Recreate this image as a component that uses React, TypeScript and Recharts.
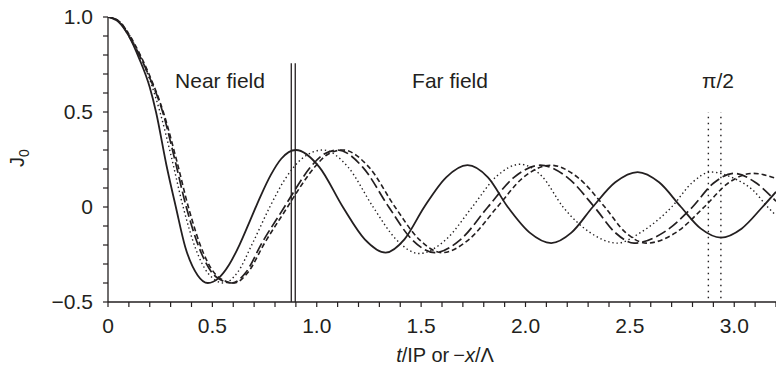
import { LineChart, Line, XAxis, YAxis, ReferenceLine, Customized } from 'recharts'

// curve samples (extrema, zero crossings and points in between)
const solidX = [0, 0.05, 0.1, 0.15, 0.2, 0.23, 0.28, 0.325, 0.37, 0.43, 0.478, 0.53, 0.58, 0.63, 0.68, 0.73, 0.78, 0.83, 0.9, 1.0125, 1.125, 1.23, 1.33, 1.42, 1.515, 1.62, 1.722, 1.82, 1.915, 2.02, 2.123, 2.22, 2.322, 2.43, 2.537, 2.64, 2.745, 2.84, 2.936, 3.035, 3.135, 3.2]
const solidY = [1, 0.975, 0.9, 0.78, 0.63, 0.5, 0.22, 0, -0.21, -0.36, -0.4, -0.374, -0.304, -0.199, -0.073, 0.055, 0.169, 0.254, 0.3, 0.21, 0, -0.17, -0.24, -0.17, 0, 0.156, 0.22, 0.156, 0, -0.135, -0.19, -0.135, 0, 0.13, 0.184, 0.13, 0, -0.114, -0.161, -0.114, 0, 0.08]

const dottedX = [0, 0.05, 0.1, 0.15, 0.2, 0.249, 0.3, 0.36, 0.42, 0.48, 0.555, 0.62, 0.695, 0.775, 0.85, 0.93, 1.03, 1.15, 1.27, 1.38, 1.49, 1.62, 1.745, 1.86, 1.975, 2.08, 2.18, 2.31, 2.44, 2.55, 2.7, 2.8, 2.888, 3.0, 3.09, 3.16, 3.2]
const dottedY = [1, 0.98, 0.91, 0.8, 0.67, 0.5, 0.28, 0, -0.22, -0.35, -0.4, -0.345, -0.185, 0, 0.15, 0.255, 0.3, 0.21, 0, -0.17, -0.245, -0.17, 0, 0.16, 0.225, 0.16, 0, -0.135, -0.19, -0.135, 0, 0.13, 0.184, 0.15, 0.088, 0, -0.045]

const longX = [0, 0.05, 0.1, 0.15, 0.2, 0.262, 0.32, 0.375, 0.45, 0.52, 0.595, 0.66, 0.737, 0.845, 0.89, 0.97, 1.03, 1.1, 1.22, 1.345, 1.455, 1.565, 1.69, 1.82, 1.945, 2.07, 2.2, 2.33, 2.43, 2.52, 2.66, 2.8, 2.9, 3.0, 3.1, 3.2]
const longY = [1, 0.98, 0.9, 0.8, 0.68, 0.5, 0.25, 0, -0.25, -0.37, -0.4, -0.345, -0.19, 0, 0.08, 0.21, 0.275, 0.3, 0.21, 0, -0.17, -0.24, -0.17, 0, 0.156, 0.22, 0.156, 0, -0.135, -0.19, -0.135, 0, 0.125, 0.177, 0.13, 0.03]

const shortX = [0, 0.05, 0.1, 0.15, 0.2, 0.265, 0.33, 0.385, 0.46, 0.53, 0.605, 0.67, 0.75, 0.86, 0.9, 0.99, 1.05, 1.125, 1.25, 1.375, 1.49, 1.6, 1.73, 1.865, 1.99, 2.12, 2.25, 2.38, 2.48, 2.58, 2.72, 2.856, 2.97, 3.09, 3.2]
const shortY = [1, 0.98, 0.91, 0.81, 0.69, 0.5, 0.24, 0, -0.25, -0.37, -0.4, -0.345, -0.19, 0, 0.07, 0.21, 0.275, 0.3, 0.21, 0, -0.17, -0.24, -0.17, 0, 0.156, 0.22, 0.156, 0, -0.135, -0.19, -0.135, 0, 0.125, 0.177, 0.15]

const xTicks = [0, 0.1, 0.2, 0.3, 0.4, 0.5, 0.6, 0.7, 0.8, 0.9, 1.0, 1.1, 1.2, 1.3, 1.4, 1.5, 1.6, 1.7, 1.8, 1.9, 2.0, 2.1, 2.2, 2.3, 2.4, 2.5, 2.6, 2.7, 2.8, 2.9, 3.0, 3.1, 3.2]
const yTicks = [-0.5, -0.4, -0.3, -0.2, -0.1, 0, 0.1, 0.2, 0.3, 0.4, 0.5, 0.6, 0.7, 0.8, 0.9, 1.0]

// boundary markers
const nearFarLines = [0.878, 0.897]
const halfPiLines = [2.876, 2.936]

const toPoints = (xs: number[], ys: number[]) => xs.map((x, i) => ({ x, y: ys[i] }))

const INK = '#231f20'
const FONT = '"Liberation Sans", Arial, sans-serif'

const fmtTick = (v: number) => {
  const r = Math.round(v * 10)
  if (r % 5 !== 0) return ''
  if (r === 0) return '0'
  return (r < 0 ? '\u2212' : '') + Math.abs(v).toFixed(1)
}

const Annotations = () => (
  <g fontFamily={FONT} fill={INK}>
    <text x={220} y={88} fontSize={21} textAnchor="middle">Near field</text>
    <text x={450} y={88} fontSize={21} textAnchor="middle">Far field</text>
    <text x={718} y={88} fontSize={21} textAnchor="middle">π/2</text>
    <text x={445} y={362} fontSize={20} textAnchor="middle">
      <tspan fontStyle="italic">t</tspan>
      <tspan>/IP or</tspan>
      <tspan dx={4}>{'\u2212'}</tspan>
      <tspan fontStyle="italic">x</tspan>
      <tspan>/Λ</tspan>
    </text>
    <text x={24} y={158} fontSize={20} textAnchor="middle" transform="rotate(-90 24 158)">
      J<tspan fontSize={14} dy={5}>0</tspan>
    </text>
  </g>
)

export default function App() {
  const solid = toPoints(solidX, solidY)
  const dotted = toPoints(dottedX, dottedY)
  const longDash = toPoints(longX, longY)
  const shortDash = toPoints(shortX, shortY)

  return (
    <div style={{ position: 'absolute', left: 0, top: 0, background: '#fff' }}>
      <LineChart width={776} height={372} margin={{ top: 17, right: 0, bottom: 0, left: 0 }}>
        <XAxis
          dataKey="x"
          type="number"
          domain={[0, 3.2]}
          ticks={xTicks}
          interval={0}
          tickFormatter={fmtTick}
          height={70}
          tickSize={5}
          tickMargin={11}
          allowDataOverflow
          stroke={INK}
          tick={{ fontSize: 21, fill: INK, fontFamily: FONT }}
          axisLine={{ stroke: INK, strokeWidth: 1.3 }}
          tickLine={{ stroke: INK, strokeWidth: 1.2 }}
        />
        <YAxis
          type="number"
          domain={[-0.5, 1.0]}
          ticks={yTicks}
          interval={0}
          tickFormatter={fmtTick}
          width={108}
          tickSize={5}
          tickMargin={10}
          allowDataOverflow
          stroke={INK}
          tick={{ fontSize: 21, fill: INK, fontFamily: FONT }}
          axisLine={{ stroke: INK, strokeWidth: 1.3 }}
          tickLine={{ stroke: INK, strokeWidth: 1.2 }}
        />
        {nearFarLines.map(x => (
          <ReferenceLine
            key={'nf' + x}
            segment={[{ x, y: -0.5 }, { x, y: 0.756 }]}
            stroke={INK}
            strokeWidth={1.3}
          />
        ))}
        {halfPiLines.map(x => (
          <ReferenceLine
            key={'hp' + x}
            segment={[{ x, y: -0.48 }, { x, y: 0.5 }]}
            stroke={INK}
            strokeWidth={1.4}
            strokeDasharray="1.5 4.5"
          />
        ))}
        <Line data={dotted} dataKey="y" type="monotone" stroke={INK} strokeWidth={1.4} strokeDasharray="1.4 2.8" dot={false} isAnimationActive={false} />
        <Line data={shortDash} dataKey="y" type="monotone" stroke={INK} strokeWidth={1.6} strokeDasharray="5 3" dot={false} isAnimationActive={false} />
        <Line data={longDash} dataKey="y" type="monotone" stroke={INK} strokeWidth={1.7} strokeDasharray="11 4" dot={false} isAnimationActive={false} />
        <Line data={solid} dataKey="y" type="monotone" stroke={INK} strokeWidth={1.8} dot={false} isAnimationActive={false} />
        <Customized component={Annotations} />
      </LineChart>
    </div>
  )
}
